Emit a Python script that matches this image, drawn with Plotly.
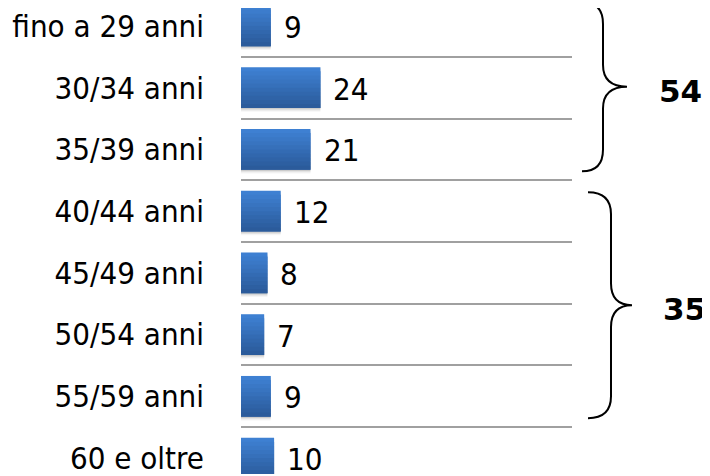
import plotly.graph_objects as go

categories = [
    "fino a 29 anni",
    "30/34 anni",
    "35/39 anni",
    "40/44 anni",
    "45/49 anni",
    "50/54 anni",
    "55/59 anni",
    "60 e oltre",
]
values = [9, 24, 21, 12, 8, 7, 9, 10]

group_totals = ["54", "35"]

FONT = "DejaVu Sans Condensed, DejaVu Sans, sans-serif"
# the html page has an 8px body margin, so the figure is drawn 8px smaller
PAD = 8
W, H = 710 - PAD, 476 - PAD
L, R = 241 - PAD, 138


def px_to_paper(px, py):
    # px, py are positions in the final 710x476 picture
    px, py = px - PAD, py - PAD
    return (px - L) / (W - L - R), 1 - py / H


def brace_path(x0, xv, xt, ytop, ybot, r=22):
    ymid = (ytop + ybot) / 2
    pts = [
        ("M", [(x0, ytop)]),
        ("Q", [(xv, ytop), (xv, ytop + r)]),
        ("L", [(xv, ymid - r)]),
        ("Q", [(xv, ymid), (xt, ymid)]),
        ("Q", [(xv, ymid), (xv, ymid + r)]),
        ("L", [(xv, ybot - r)]),
        ("Q", [(xv, ybot), (x0, ybot)]),
    ]
    out = []
    for cmd, coords in pts:
        conv = [px_to_paper(x, y) for x, y in coords]
        out.append(cmd + " " + " ".join(f"{a:.5f},{b:.5f}" for a, b in conv))
    return " ".join(out)


def mix(c1, c2, t):
    a = [int(c1[i:i + 2], 16) for i in (1, 3, 5)]
    b = [int(c2[i:i + 2], 16) for i in (1, 3, 5)]
    return "rgb({},{},{})".format(*[round(a[i] + (b[i] - a[i]) * t) for i in range(3)])


fig = go.Figure()

bar_w = 0.66
# soft shadow under the bars
for k, alpha in enumerate([0.10, 0.07, 0.04]):
    fig.add_trace(
        go.Bar(
            x=values,
            y=categories,
            orientation="h",
            offset=-bar_w / 2 + 0.02 * (k + 1),
            width=bar_w,
            marker=dict(color=f"rgba(0,0,0,{alpha})", line=dict(width=0)),
            hoverinfo="skip",
            showlegend=False,
        )
    )

# vertical gradient: lighter at the top, darker at the bottom
n_slices = 10
top_col, bot_col = "#3e80d2", "#2b5b9b"
step = bar_w / n_slices
for k in range(n_slices):
    fig.add_trace(
        go.Bar(
            x=values,
            y=categories,
            orientation="h",
            offset=-bar_w / 2 + k * step,
            width=step * (2 if k < n_slices - 1 else 1),
            marker=dict(color=mix(top_col, bot_col, k / (n_slices - 1)), line=dict(width=0)),
            hoverinfo="skip" if k else None,
            showlegend=False,
        )
    )

for cat, val in zip(categories, values):
    fig.add_annotation(
        x=val, y=cat, text=str(val), showarrow=False,
        xanchor="left", xshift=11, yshift=-1,
        font=dict(family=FONT, size=31, color="#000000"),
    )

# braces and group totals
for (ytop, ybot, x0, xv, xt), total, (tx, ty) in zip(
    [(2, 172, 582, 603, 627), (193, 420, 588, 611, 632)],
    group_totals,
    [(680, 91), (684, 310)],
):
    fig.add_shape(
        type="path", xref="paper", yref="paper",
        path=brace_path(x0, xv, xt, ytop, ybot),
        line=dict(color="#000000", width=2),
    )
    px, py = px_to_paper(tx, ty)
    fig.add_annotation(
        x=px, y=py, xref="paper", yref="paper", text=f"<b>{total}</b>",
        showarrow=False, xanchor="center", yanchor="middle",
        font=dict(family="DejaVu Sans, sans-serif", size=31, color="#000000"),
    )

pitch = 62.0
first_row = 26 - PAD
y_top = -first_row / pitch
y_bot = (H - first_row) / pitch

fig.update_layout(
    width=W,
    height=H,
    margin=dict(l=L, r=R, t=0, b=0),
    paper_bgcolor="white",
    plot_bgcolor="white",
    barmode="overlay",
    showlegend=False,
)
fig.update_xaxes(range=[0, 100], visible=False)
fig.update_yaxes(
    type="category",
    categoryorder="array",
    categoryarray=categories,
    range=[y_bot, y_top],
    tickson="boundaries",
    ticks="",
    showgrid=True,
    gridcolor="#a0a0a0",
    gridwidth=2,
    zeroline=False,
    showline=False,
    ticklabelstandoff=36,
    tickfont=dict(family=FONT, size=31, color="#000000"),
)

fig.write_html("out.html")
